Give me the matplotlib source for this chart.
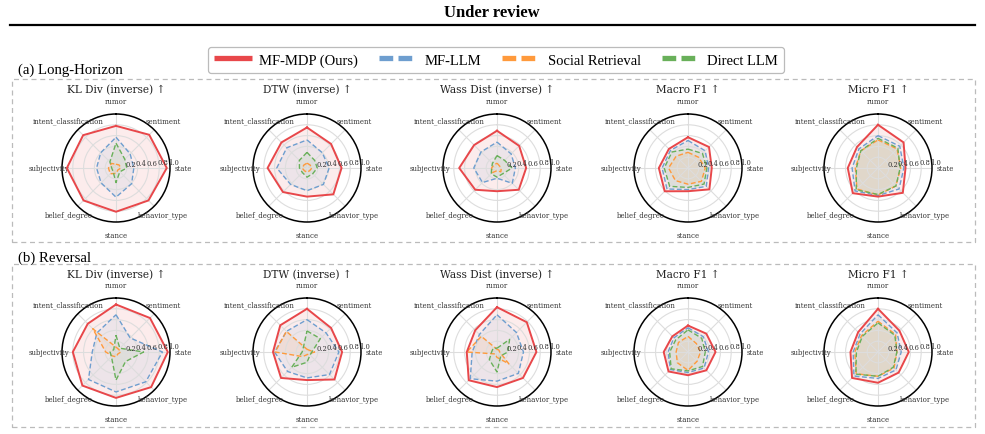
import numpy as np
import matplotlib
matplotlib.use("Agg")
import matplotlib.pyplot as plt
from matplotlib.lines import Line2D
from matplotlib.patches import Rectangle

# ---------------- data ----------------
categories = ["rumor", "sentiment", "state", "behavior_type", "stance",
              "belief_degree", "subjectivity", "intent_classification"]
methods = ["MF-MDP (Ours)", "MF-LLM", "Social Retrieval", "Direct LLM"]
metric_titles = ["KL Div (inverse) \u2191", "DTW (inverse) \u2191", "Wass Dist (inverse) \u2191",
                 "Macro F1 \u2191", "Micro F1 \u2191"]
row_titles = ["(a) Long-Horizon", "(b) Reversal"]
rtick_values = [0.2, 0.4, 0.6, 0.8, 1.0]

# rows: MF-MDP, MF-LLM, Social Retrieval, Direct LLM ; columns follow `categories`
lh_kl = [[0.78, 0.87, 0.94, 0.85, 0.81, 0.85, 0.91, 0.86],
         [0.57, 0.37, 0.33, 0.41, 0.54, 0.39, 0.36, 0.40],
         [0.07, 0.08, 0.09, 0.05, 0.10, 0.15, 0.14, 0.12],
         [0.46, 0.23, 0.20, 0.10, 0.27, 0.08, 0.08, 0.16]]
lh_dtw = [[0.75, 0.63, 0.64, 0.69, 0.53, 0.63, 0.73, 0.67],
          [0.52, 0.40, 0.41, 0.43, 0.42, 0.43, 0.56, 0.53],
          [0.09, 0.08, 0.09, 0.07, 0.08, 0.07, 0.09, 0.08],
          [0.29, 0.20, 0.19, 0.15, 0.17, 0.12, 0.14, 0.20]]
lh_wass = [[0.69, 0.58, 0.54, 0.57, 0.43, 0.57, 0.70, 0.60],
           [0.48, 0.37, 0.34, 0.40, 0.19, 0.38, 0.43, 0.42],
           [0.09, 0.06, 0.08, 0.10, 0.05, 0.12, 0.10, 0.08],
           [0.23, 0.20, 0.28, 0.15, 0.17, 0.15, 0.10, 0.12]]
lh_macro = [[0.57, 0.55, 0.44, 0.56, 0.43, 0.61, 0.54, 0.50],
            [0.51, 0.45, 0.38, 0.48, 0.40, 0.55, 0.48, 0.46],
            [0.29, 0.28, 0.32, 0.35, 0.30, 0.33, 0.36, 0.31],
            [0.35, 0.38, 0.35, 0.42, 0.36, 0.48, 0.44, 0.42]]
lh_micro = [[0.80, 0.67, 0.51, 0.65, 0.53, 0.66, 0.56, 0.55],
            [0.60, 0.57, 0.48, 0.55, 0.51, 0.60, 0.48, 0.50],
            [0.52, 0.50, 0.42, 0.47, 0.50, 0.55, 0.42, 0.45],
            [0.55, 0.52, 0.41, 0.47, 0.49, 0.57, 0.40, 0.45]]
rv_kl = [[0.88, 0.89, 0.96, 0.92, 0.85, 0.88, 0.80, 0.74],
         [0.69, 0.37, 0.86, 0.78, 0.74, 0.72, 0.44, 0.50],
         [0.09, 0.07, 0.09, 0.05, 0.09, 0.10, 0.19, 0.61],
         [0.31, 0.10, 0.51, 0.25, 0.52, 0.12, 0.11, 0.06]]
rv_dtw = [[0.80, 0.63, 0.65, 0.72, 0.52, 0.68, 0.63, 0.70],
          [0.60, 0.50, 0.59, 0.59, 0.48, 0.51, 0.60, 0.54],
          [0.05, 0.05, 0.14, 0.05, 0.05, 0.12, 0.59, 0.54],
          [0.39, 0.35, 0.09, 0.08, 0.19, 0.40, 0.09, 0.10]]
rv_wass = [[0.83, 0.78, 0.73, 0.68, 0.65, 0.74, 0.56, 0.57],
           [0.69, 0.51, 0.49, 0.56, 0.54, 0.70, 0.46, 0.46],
           [0.05, 0.05, 0.05, 0.31, 0.10, 0.05, 0.56, 0.41],
           [0.07, 0.33, 0.20, 0.10, 0.37, 0.20, 0.10, 0.10]]
rv_macro = [[0.49, 0.48, 0.51, 0.48, 0.43, 0.51, 0.45, 0.41],
            [0.45, 0.40, 0.38, 0.42, 0.38, 0.46, 0.37, 0.37],
            [0.29, 0.22, 0.23, 0.24, 0.34, 0.28, 0.22, 0.25],
            [0.41, 0.36, 0.32, 0.38, 0.35, 0.44, 0.34, 0.32]]
rv_micro = [[0.80, 0.56, 0.57, 0.54, 0.57, 0.68, 0.51, 0.52],
            [0.69, 0.50, 0.43, 0.47, 0.49, 0.63, 0.46, 0.47],
            [0.57, 0.46, 0.35, 0.42, 0.45, 0.57, 0.43, 0.43],
            [0.54, 0.44, 0.35, 0.40, 0.45, 0.58, 0.40, 0.41]]

rows_data = [[lh_kl, lh_dtw, lh_wass, lh_macro, lh_micro],
             [rv_kl, rv_dtw, rv_wass, rv_macro, rv_micro]]

# ---------------- style ----------------
colors = ["#e8474a", "#6e9ecf", "#ff9a3c", "#69b05a"]
W, H = 985, 435
R = 54
col_cx = [116, 307, 497, 688, 878]
row_cy = [169, 353]
title_y = [90, 275]
label_y = [70, 258]
box_y = [(80, 243), (265, 428)]

serif = "DejaVu Serif"
times = "Liberation Serif"

fig = plt.figure(figsize=(W / 100, H / 100), dpi=100)

def fx(x):
    return x / W

def fy(y):
    return 1 - y / H

# header
fig.text(fx(492), fy(13), "Under review", ha="center", va="center",
         family=times, fontweight="bold", fontsize=12)
fig.add_artist(Line2D([fx(10), fx(975)], [fy(26), fy(26)], color="black", lw=1.6))

# legend
handles = []
for i, (m, c) in enumerate(zip(methods, colors)):
    if i == 0:
        h = Line2D([0], [0], color=c, lw=3.8, solid_capstyle="butt")
    else:
        h = Line2D([0], [0], color=c, lw=3.8, dashes=(2.6, 1.0), dash_capstyle="butt")
    handles.append(h)
leg = fig.legend(handles, methods, loc="center", bbox_to_anchor=(fx(496), fy(61)),
                 ncol=4, frameon=True, fancybox=True, handlelength=2.6,
                 columnspacing=1.45, handletextpad=0.5, borderpad=0.45,
                 prop={"family": times, "size": 10.5})
leg.get_frame().set_edgecolor("#aaaaaa")
leg.get_frame().set_linewidth(0.9)

angles = np.linspace(0, 2 * np.pi, len(categories), endpoint=False)
closed = np.concatenate([angles, angles[:1]])

for r in range(2):
    fig.text(fx(18), fy(label_y[r]), row_titles[r], ha="left", va="center",
             family=times, fontsize=10.7)
    y0, y1 = box_y[r]
    fig.add_artist(Rectangle((fx(12), fy(y1)), fx(975) - fx(12), fy(y0) - fy(y1),
                             fill=False, edgecolor="#bbbbbb", lw=0.9, linestyle=(0, (4, 3))))
    for c in range(5):
        cx, cy = col_cx[c], row_cy[r]
        ax = fig.add_axes([fx(cx - R), fy(cy + R), 2 * R / W, 2 * R / H], projection="polar")
        ax.set_theta_offset(np.pi / 2)
        ax.set_theta_direction(-1)
        ax.set_ylim(0, 1.0)
        ax.set_xticks(angles)
        ax.set_xticklabels([])
        ax.set_yticks(rtick_values[:-1])
        ax.set_yticklabels([])
        ax.grid(True, color="#dddddd", lw=0.8)
        ax.spines["polar"].set_color("black")
        ax.spines["polar"].set_linewidth(1.1)
        ax.set_facecolor("white")
        data = rows_data[r][c]
        for k in range(4):
            vals = np.array(data[k] + data[k][:1])
            if k == 0:
                ax.plot(closed, vals, color=colors[k], lw=1.4, zorder=5)
                ax.fill(closed, vals, color=colors[k], alpha=0.10, lw=0)
            else:
                ax.plot(closed, vals, color=colors[k], lw=1.0, linestyle=(0, (3.5, 1.8)), zorder=4)
                ax.fill(closed, vals, color=colors[k], alpha=0.10, lw=0)
        for a, name in zip(angles, categories):
            ax.text(a, 1.24, name, ha="center", va="center", family=serif,
                    fontsize=5.0, color="#333333", clip_on=False)
        for v in rtick_values:
            ax.text(np.pi / 2 - 0.04, v - 0.03, f"{v:.1f}", ha="left", va="bottom",
                    family=serif, fontsize=4.9, color="#333333", clip_on=False, zorder=6)
        fig.text(fx(cx), fy(title_y[r]), metric_titles[c], ha="center", va="center",
                 family=serif, fontsize=7.6, color="#222222")

fig.savefig("out.png", dpi=100)
